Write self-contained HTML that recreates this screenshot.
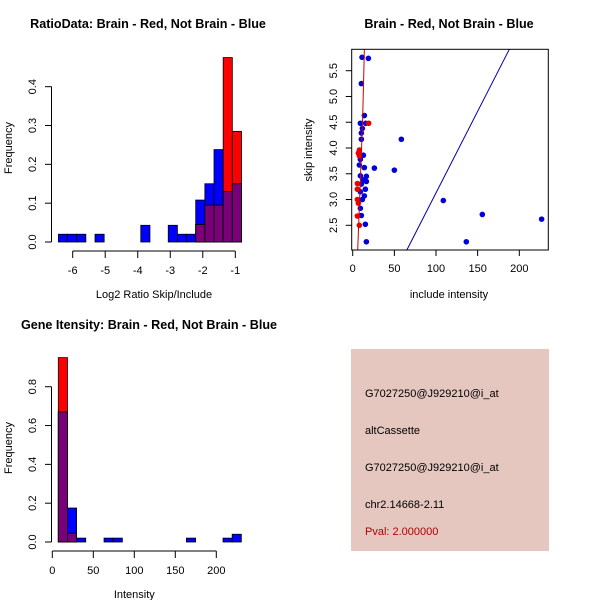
<!DOCTYPE html>
<html><head><meta charset="utf-8"><style>
html,body{margin:0;padding:0;background:#fff}
svg text{font-family:"Liberation Sans",sans-serif}
</style></head><body>
<svg id="c" width="600" height="600" xmlns="http://www.w3.org/2000/svg">
<rect width="600" height="600" fill="#fff"/>
<g id="p1"></g>
<g id="p2"></g>
<g id="p3"></g>
<g id="p4">
<rect x="351" y="349" width="198" height="202" fill="#e5c7c0"/>
<text x="365" y="397" font-size="11">G7027250@J929210@i_at</text>
<text x="365" y="434" font-size="11">altCassette</text>
<text x="365" y="471" font-size="11">G7027250@J929210@i_at</text>
<text x="365" y="508" font-size="11">chr2.14668-2.11</text>
<text x="365" y="535" font-size="11" fill="#b00000">Pval: 2.000000</text>
</g>
</svg>
<script>
// Histogram 1 data
const h1Start = -6.44, h1Width = 0.2815;
const h1Blue = [0.02,0.02,0.02,0,0.02,0,0,0,0,0.043,0,0,0.043,0.02,0.02,0.108,0.15,0.238,0.13,0.15];
const h1Red  = [0,0,0,0,0,0,0,0,0,0,0,0,0,0,0,0.045,0.095,0.095,0.475,0.285];
const h1XTicks = [-6,-5,-4,-3,-2,-1];
const h1YTicks = [0,0.1,0.2,0.3,0.4];
// Histogram 3 data
const h3Start = 7.3, h3Width = 11.16;
const h3Blue = [0.67,0.175,0.02,0,0,0.02,0.02,0,0,0,0,0,0,0,0.02,0,0,0,0.02,0.04];
const h3Red  = [0.95,0.045,0,0,0,0,0,0,0,0,0,0,0,0,0,0,0,0,0,0];
const h3XTicks = [0,50,100,150,200];
const h3YTicks = [0,0.2,0.4,0.6,0.8];
// Scatter data
const blueX = [11.2,18.8,10.4,14,9.2,15.6,11.6,10.4,10.4,58.4,12.8,9.2,8,14,26,50,9.2,16.4,12.8,16.4,10.4,15.2,9.2,14,11.6,108.8,9.2,10.4,155.6,226.8,15.2,16.4,136.4];
const blueY = [5.76,5.74,5.25,4.63,4.48,4.48,4.38,4.29,4.17,4.17,3.86,3.78,3.67,3.62,3.61,3.57,3.46,3.45,3.38,3.35,3.30,3.20,3.15,3.07,3.00,2.98,2.83,2.69,2.71,2.62,2.52,2.18,2.18];
const redX = [19.2,8,6.8,8,5.6,5.6,5.6,6.8,5.6,8];
const redY = [4.48,3.96,3.90,3.85,3.31,3.20,3.0,2.93,2.68,2.5];
const blueLine = [[65,2.02],[188,5.915]];
const redLine = [[6,2.02],[9.5,3.5],[12,4.6],[14,5.915]];
const sXTicks = [0,50,100,150,200];
const sYTicks = [2.5,3.0,3.5,4.0,4.5,5.0,5.5];

const NS="http://www.w3.org/2000/svg";
function mk(parent,tag,attrs,txt){const e=document.createElementNS(NS,tag);for(const k in attrs)e.setAttribute(k,attrs[k]);if(txt!==undefined)e.textContent=txt;parent.appendChild(e);return e;}

function hist(g,start,w,blue,red,xs,ys,xt,yt,title,titleX,titleY,xlab,xlabY,ylabX,ylabY,xtickAxisY,prefix){
  const X=v=>xs(v), Y=v=>ys(v);
  for(let i=0;i<blue.length;i++){
    const x0=X(start+i*w), x1=X(start+(i+1)*w);
    const b=blue[i], r=red[i], m=Math.min(b,r);
    if(b>0){const e=mk(g,'rect',{x:x0,y:Y(b),width:x1-x0,height:Y(0)-Y(b),fill:'#0000ff',stroke:'#000',"stroke-width":0.8});
      
      }
    if(r>0){const e=mk(g,'rect',{x:x0,y:Y(r),width:x1-x0,height:Y(0)-Y(r),fill:'#ff0000',stroke:'#000',"stroke-width":0.8});
      
      }
    if(m>0){const e=mk(g,'rect',{x:x0,y:Y(m),width:x1-x0,height:Y(0)-Y(m),fill:'#7a007a',stroke:'#000',"stroke-width":0.8});
      
      }
  }
  const ya=mk(g,'g',{});
  
  
  mk(ya,'line',{x1:51.5,x2:51.5,y1:Y(yt[0]),y2:Y(yt[yt.length-1]),stroke:'#000'});
  yt.forEach(v=>{mk(ya,'line',{x1:45,x2:51.5,y1:Y(v),y2:Y(v),stroke:'#000'});
    const t=mk(ya,'text',{x:0,y:0,"font-size":11,"text-anchor":"middle",transform:`translate(36,${Y(v)}) rotate(-90)`},v.toFixed(1));
    
    });
  const xa=mk(g,'g',{});
  
  
  mk(xa,'line',{x1:X(xt[0]),x2:X(xt[xt.length-1]),y1:xtickAxisY,y2:xtickAxisY,stroke:'#000'});
  xt.forEach(v=>{mk(xa,'line',{x1:X(v),x2:X(v),y1:xtickAxisY,y2:xtickAxisY+7,stroke:'#000'});
    const t=mk(xa,'text',{x:X(v),y:xtickAxisY+23,"font-size":11,"text-anchor":"middle"},String(v));
    
    });
  const tt=mk(g,'text',{x:titleX,y:titleY,"font-size":12.6,"font-weight":"bold","text-anchor":"middle"},title);
  
  
  const xl=mk(g,'text',{x:(X(xt[0])+X(xt[xt.length-1]))/2,y:xlabY,"font-size":11,"text-anchor":"middle"},xlab);
  
  
  const yl=mk(g,'text',{x:0,y:0,"font-size":11,"text-anchor":"middle",transform:`translate(${ylabX},${ylabY}) rotate(-90)`},'Frequency');
  
  
}

hist(document.getElementById('p1'),h1Start,h1Width,h1Blue,h1Red,
  v=>72.7+(v+6)*32.52, v=>242-v*388.3, h1XTicks,h1YTicks,
  'RatioData: Brain - Red, Not Brain - Blue',148,28,'Log2 Ratio Skip/Include',298,12,148,251,'ratio');
hist(document.getElementById('p3'),h3Start,h3Width,h3Blue,h3Red,
  v=>52.3+v*0.82, v=>542-v*194.1, h3XTicks,h3YTicks,
  'Gene Itensity: Brain - Red, Not Brain - Blue',149,329,'Intensity',598,12,448,551,'gene');

(function(){
  const g=document.getElementById('p2');
  const X=v=>352.7+v*0.833, Y=v=>225.3-(v-2.5)*51.53;
  const L=351.7,R=548.3,T=49.3,B=250;
  const clip=mk(g,'clipPath',{id:'sc'});mk(clip,'rect',{x:L,y:T,width:R-L,height:B-T});
  const pts=mk(g,'g',{"clip-path":"url(#sc)"});
  blueX.forEach((v,i)=>{const c=mk(pts,'circle',{cx:X(v),cy:Y(blueY[i]),r:2.8,fill:'#0000dd'});
    
    });
  redX.forEach((v,i)=>{const c=mk(pts,'circle',{cx:X(v),cy:Y(redY[i]),r:2.8,fill:'#ee0000'});
    
    });
  const bl=mk(pts,'polyline',{points:blueLine.map(p=>X(p[0])+','+Y(p[1])).join(' '),fill:'none',stroke:'#0000aa',"stroke-width":1});
  
  
  const rl=mk(pts,'polyline',{points:redLine.map(p=>X(p[0])+','+Y(p[1])).join(' '),fill:'none',stroke:'#cc0000',"stroke-width":1});
  
  
  const box=mk(g,'rect',{x:L,y:T,width:R-L,height:B-T,fill:'none',stroke:'#000'});
  
  
  sXTicks.forEach(v=>{mk(g,'line',{x1:X(v),x2:X(v),y1:B,y2:B+6,stroke:'#000'});
    const t=mk(g,'text',{x:X(v),y:B+22,"font-size":11,"text-anchor":"middle"},String(v));
    
    });
  sYTicks.forEach(v=>{mk(g,'line',{x1:L-6,x2:L,y1:Y(v),y2:Y(v),stroke:'#000'});
    const t=mk(g,'text',{x:0,y:0,"font-size":11,"text-anchor":"middle",transform:`translate(337,${Y(v)}) rotate(-90)`},v.toFixed(1));
    
    });
  const tt=mk(g,'text',{x:449,y:28,"font-size":12.6,"font-weight":"bold","text-anchor":"middle"},'Brain - Red, Not Brain - Blue');
  
  
  const xl=mk(g,'text',{x:449,y:298,"font-size":11,"text-anchor":"middle"},'include intensity');
  
  
  const yl=mk(g,'text',{x:0,y:0,"font-size":11,"text-anchor":"middle",transform:'translate(312,150) rotate(-90)'},'skip intensity');
  
  
})();
</script>
</body></html>
